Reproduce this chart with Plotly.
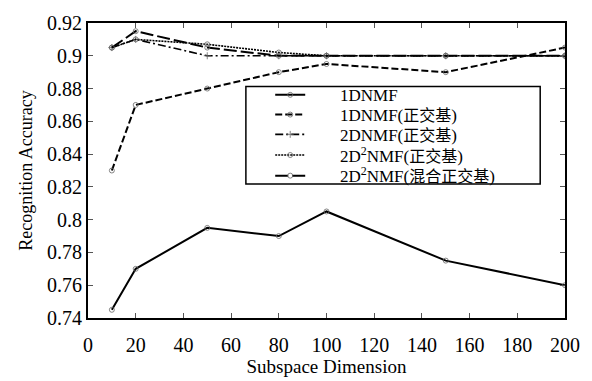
import plotly.graph_objects as go

x_dims = [10, 20, 50, 80, 100, 150, 200]
acc_1dnmf = [0.745, 0.770, 0.795, 0.790, 0.805, 0.775, 0.760]
acc_1dnmf_orth = [0.830, 0.870, 0.880, 0.890, 0.895, 0.890, 0.905]
acc_2dnmf_orth = [0.905, 0.910, 0.900, 0.900, 0.900, 0.900, 0.900]
acc_2d2nmf_orth = [0.905, 0.910, 0.907, 0.902, 0.900, 0.900, 0.900]
acc_2d2nmf_mix = [0.905, 0.915, 0.905, 0.900, 0.900, 0.900, 0.900]

cjk = lambda t: '<span style="font-size:16px">' + t + '</span>'
names = ["1DNMF",
         "1DNMF(" + cjk("正交基") + ")",
         "2DNMF(" + cjk("正交基") + ")",
         "2D<sup>2</sup>NMF(" + cjk("正交基") + ")",
         "2D<sup>2</sup>NMF(" + cjk("混合正交基") + ")"]
series = [acc_1dnmf, acc_1dnmf_orth, acc_2dnmf_orth, acc_2d2nmf_orth, acc_2d2nmf_mix]
dashes = ["solid", "7px,3px", "8px,3px,2px,3px", "2px,1px", "13px,4px"]
symbols = ["circle-open", "circle-open", "cross-thin-open", "circle-open", "circle-open"]
widths = [2, 2, 1.6, 1.6, 2]
legend_ids = ["legend", "legend2", "legend3", "legend4", "legend5"]
legend_rows_y = [0.755, 0.688, 0.621, 0.551, 0.481]

pad = "\u00a0" * 7

fig = go.Figure()
for nm, ys, d, s, w, lg in zip(names, series, dashes, symbols, widths, legend_ids):
    fig.add_trace(go.Scatter(
        x=x_dims, y=ys, name=pad + nm, mode="lines+markers", legend=lg,
        line=dict(color="black", dash=d, width=w),
        marker=dict(symbol=s, size=5, color="#666", line=dict(width=0.8, color="#555")),
    ))

axis_common = dict(showline=True, linecolor="black", linewidth=2, mirror="ticks",
                   ticks="inside", ticklen=5, tickcolor="#555", tickwidth=1, showgrid=False,
                   zeroline=False, tickfont=dict(size=20, color="black"))
fig.update_xaxes(range=[0, 200], dtick=20, ticklabelstandoff=8,
                 title=dict(text="Subspace Dimension", font=dict(size=19, color="black"), standoff=0),
                 **axis_common)
fig.update_yaxes(range=[0.74, 0.92], dtick=0.02, tickformat="~g",
                 title=dict(text="Recognition Accuracy", font=dict(size=18, color="black"), standoff=10),
                 **axis_common)

# legend frame
fig.add_shape(type="rect", xref="paper", yref="paper", x0=0.331, x1=0.948, y0=0.454, y1=0.785,
              line=dict(color="black", width=1.5), fillcolor="white", layer="above")

legend_common = dict(xanchor="left", yanchor="middle", bgcolor="rgba(0,0,0,0)", borderwidth=0,
                     font=dict(size=17, color="black"), tracegroupgap=0)
layout_legends = {}
for lg, yy in zip(legend_ids, legend_rows_y):
    layout_legends[lg] = dict(x=0.382, y=yy, **legend_common)

fig.update_layout(
    width=592, height=381,
    margin=dict(l=88, r=24, t=15, b=49),
    paper_bgcolor="white", plot_bgcolor="white",
    font=dict(family="Liberation Serif, Noto Sans CJK SC, serif", color="black"),
    showlegend=True,
    **layout_legends,
)

fig.write_html("out.html", post_script="document.body.style.margin='0';",
               config={"displayModeBar": False})
